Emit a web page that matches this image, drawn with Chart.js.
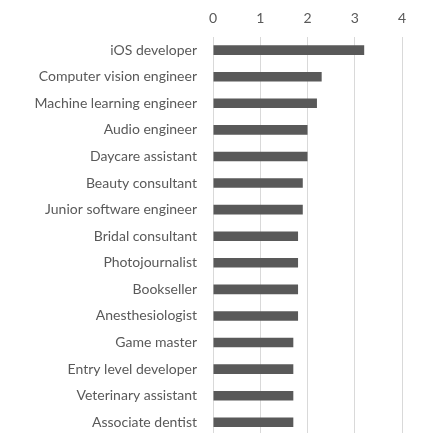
<!DOCTYPE html>
<html>
<head>
<meta charset="utf-8">
<script src="https://cdn.jsdelivr.net/npm/chart.js@4"></script>
<style>
    html, body { margin: 0; padding: 0; background: #fff; overflow: hidden; }
    canvas { display: block; }
</style>
</head>
<body>
<canvas id="jobs-chart" width="424" height="460"></canvas>
<script>
const jobTitles = [
    "iOS developer", "Computer vision engineer", "Machine learning engineer",
    "Audio engineer", "Daycare assistant", "Beauty consultant",
    "Junior software engineer", "Bridal consultant", "Photojournalist",
    "Bookseller", "Anesthesiologist", "Game master",
    "Entry level developer", "Veterinary assistant", "Associate dentist"
];
const jobValues = [3.2, 2.3, 2.2, 2.0, 2.0, 1.9, 1.9, 1.8, 1.8, 1.8, 1.8, 1.7, 1.7, 1.7, 1.7];
const xTicks = [0, 1, 2, 3, 4];

const textGray = "#595959";
const labelFont = { family: "Lato, 'Open Sans', sans-serif", size: 14 };

function drawChart() {
    const ctx = document.getElementById("jobs-chart").getContext("2d");
    new Chart(ctx, {
        type: "bar",
        data: {
            labels: jobTitles,
            datasets: [{
                data: jobValues,
                backgroundColor: "#595959",
                borderWidth: 0,
                barPercentage: 0.72,
                categoryPercentage: 0.5
            }]
        },
        options: {
            indexAxis: "y",
            responsive: false,
            animation: false,
            layout: { padding: { top: 0, right: 22, left: 0, bottom: 0 } },
            plugins: {
                legend: { display: false },
                tooltip: { enabled: false }
            },
            scales: {
                x: {
                    position: "top",
                    min: xTicks[0],
                    max: xTicks[xTicks.length - 1],
                    afterBuildTicks: (axis) => { axis.ticks = xTicks.map(v => ({ value: v })); },
                    grid: { color: "#d9d9d9", drawTicks: false, lineWidth: 1 },
                    border: { display: false },
                    ticks: { color: textGray, font: labelFont, padding: 10 }
                },
                y: {
                    afterFit: (axis) => { axis.width = 213; },
                    grid: { display: false, drawTicks: false },
                    border: { display: false },
                    ticks: { color: textGray, font: labelFont, padding: 16, autoSkip: false }
                }
            }
        }
    });
}

document.addEventListener("DOMContentLoaded", drawChart);
</script>
</body>
</html>
